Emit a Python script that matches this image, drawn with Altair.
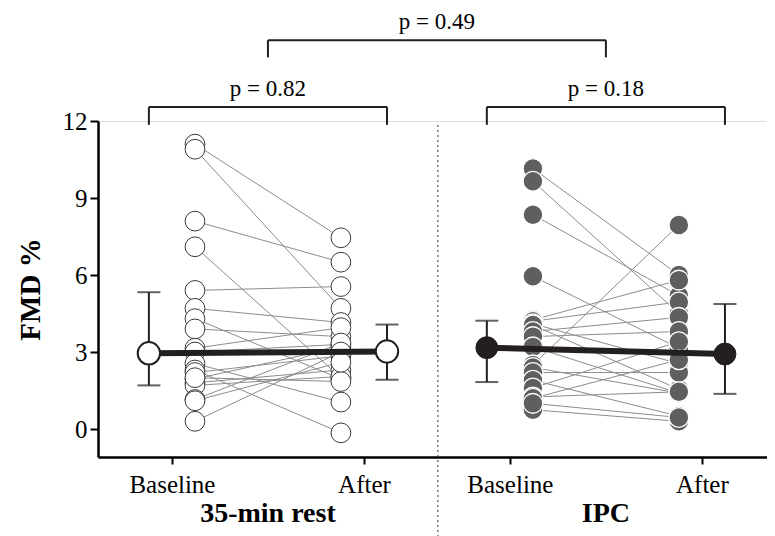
import altair as alt
import pandas as pd

# ---- data ----
rest_baseline = [11.1, 10.9, 8.1, 7.1, 5.4, 4.7, 4.3, 3.9, 3.15, 3.0, 2.55, 2.3, 2.2, 1.95, 1.8, 1.7, 1.15, 0.3, 2.0, 1.1]
rest_after = [7.45, 4.7, 6.5, 2.0, 5.55, 4.15, 1.95, 3.6, 3.95, 3.3, 1.05, -0.15, 2.85, 3.2, 2.3, 2.05, 3.35, 3.0, 1.85, 2.6]
ipc_baseline = [10.15, 9.65, 8.35, 5.95, 4.25, 4.2, 4.1, 4.05, 3.8, 3.6, 3.2, 2.5, 2.4, 2.2, 1.9, 1.6, 1.25, 1.2, 0.75, 1.0]
ipc_after = [6.0, 4.5, 5.2, 3.15, 5.8, 4.95, 2.55, 1.55, 4.35, 3.8, 1.4, 7.95, 1.4, 2.2, 0.5, 3.4, 1.45, 2.7, 0.3, 0.45]

groups = ["35-min rest", "IPC"]
phases = ["Baseline", "After"]
summary_mid = [2.95, 3.02, 3.17, 2.92]
summary_lo = [1.7, 1.92, 1.83, 1.37]
summary_hi = [5.33, 4.07, 4.22, 4.87]

p_labels = ["p = 0.82", "p = 0.18", "p = 0.49"]

# ---- layout (category positions on the x scale) ----
tick_pos = {"35-min rest": [1.0, 2.0], "IPC": [2.76, 3.76]}
OFF = 0.12
SEP = 2.385

rows = []
for g, base, aft in [("35-min rest", rest_baseline, rest_after), ("IPC", ipc_baseline, ipc_after)]:
    for i, (b, a) in enumerate(zip(base, aft)):
        rows.append(dict(group=g, subj=f"{g}-{i}", x=tick_pos[g][0] + OFF, value=b, order=0))
        rows.append(dict(group=g, subj=f"{g}-{i}", x=tick_pos[g][1] - OFF, value=a, order=1))
subj_df = pd.DataFrame(rows)

srows = []
k = 0
for g in groups:
    for j, ph in enumerate(phases):
        xpos = tick_pos[g][j] + (-OFF if j == 0 else OFF)
        srows.append(dict(group=g, phase=ph, x=xpos, value=summary_mid[k],
                          lo=summary_lo[k], hi=summary_hi[k], order=j))
        k += 1
sum_df = pd.DataFrame(srows)

mx = {(r["group"], r["phase"]): r["x"] for r in srows}
br = [
    (mx[("35-min rest", "Baseline")], mx[("35-min rest", "After")], 12.55, 11.85, p_labels[0], 13.25),
    (mx[("IPC", "Baseline")], mx[("IPC", "After")], 12.55, 11.85, p_labels[1], 13.25),
    ((mx[("35-min rest", "Baseline")] + mx[("35-min rest", "After")]) / 2,
     (mx[("IPC", "Baseline")] + mx[("IPC", "After")]) / 2, 15.15, 14.48, p_labels[2], 15.85),
]
h_df = pd.DataFrame([dict(x=a, x2=b, value=t) for a, b, t, _, _, _ in br])
v_df = pd.DataFrame([dict(x=xx, value=t, value2=bt) for a, b, t, bt, _, _ in br for xx in (a, b)])
t_df = pd.DataFrame([dict(x=(a + b) / 2, value=ty, label=lab) for a, b, _, _, lab, ty in br])
g_df = pd.DataFrame([dict(x=(tick_pos[g][0] + tick_pos[g][1]) / 2, label=g) for g in groups])
sep_df = pd.DataFrame([dict(x=SEP)])

FONT = "Liberation Serif"
xs = alt.Scale(domain=[0.615, 4.099], nice=False, zero=False)
ys = alt.Scale(domain=[-1.09, 12], nice=False, zero=False)

xaxis = alt.Axis(values=[1.0, 2.0, 2.76, 3.76],
                 labelExpr="datum.value < 1.5 ? 'Baseline' : datum.value < 2.5 ? 'After' : datum.value < 3.3 ? 'Baseline' : 'After'",
                 title="", grid=False, domainColor="black", domainWidth=2.5,
                 tickColor="black", tickWidth=2, tickSize=7, labelFont=FONT,
                 labelFontSize=25, labelColor="black", labelPadding=8)
yaxis = alt.Axis(values=[0, 3, 6, 9, 12], title="FMD %", grid=False, domainColor="black",
                 domainWidth=2.5, tickColor="black", tickWidth=2, tickSize=8,
                 labelFont=FONT, labelFontSize=25, labelColor="black", labelPadding=3,
                 titleFont=FONT, titleFontSize=29, titleFontWeight="bold",
                 titleColor="black", titlePadding=17)

def X(field="x"):
    return alt.X(f"{field}:Q", scale=xs, axis=xaxis)

def Y(field="value"):
    return alt.Y(f"{field}:Q", scale=ys, axis=yaxis)

sep = alt.Chart(sep_df).mark_rule(color="#333333", strokeWidth=1, strokeDash=[2, 3]).encode(
    x=X(), y=alt.value(4), y2=alt.value(415))

lines = alt.Chart(subj_df).mark_line(color="#8c8c8c", strokeWidth=1).encode(
    x=X(), y=Y(), detail="subj:N", order="order:Q")

rest_pts = alt.Chart(subj_df[subj_df.group == "35-min rest"]).mark_point(
    shape="circle", filled=True, fill="white", stroke="#3a3a3a", strokeWidth=1, size=390, opacity=1
).encode(x=X(), y=Y())

ipc_pts = alt.Chart(subj_df[subj_df.group == "IPC"]).mark_point(
    shape="circle", filled=True, fill="#5f5f5f", stroke="white", strokeWidth=1.3, size=390, opacity=1
).encode(x=X(), y=Y())

err = alt.Chart(sum_df).mark_rule(color="#231f20", strokeWidth=2).encode(
    x=X(), y=Y("lo"), y2="hi:Q")
cap_lo = alt.Chart(sum_df).mark_tick(orient="horizontal", color="#231f20", thickness=2, size=23).encode(
    x=X(), y=Y("lo"))
cap_hi = alt.Chart(sum_df).mark_tick(orient="horizontal", color="#231f20", thickness=2, size=23).encode(
    x=X(), y=Y("hi"))

mean_line = alt.Chart(sum_df).mark_line(color="#231f20", strokeWidth=6).encode(
    x=X(), y=Y(), detail="group:N", order="order:Q")

rest_mean = alt.Chart(sum_df[sum_df.group == "35-min rest"]).mark_point(
    shape="circle", filled=True, fill="white", stroke="#231f20", strokeWidth=2, size=500, opacity=1
).encode(x=X(), y=Y())
ipc_mean = alt.Chart(sum_df[sum_df.group == "IPC"]).mark_point(
    shape="circle", filled=True, fill="#231f20", stroke="#231f20", strokeWidth=1, size=480, opacity=1
).encode(x=X(), y=Y())

hbr = alt.Chart(h_df).mark_rule(color="#231f20", strokeWidth=2).encode(x=X(), x2="x2:Q", y=Y())
vbr = alt.Chart(v_df).mark_rule(color="#231f20", strokeWidth=2).encode(x=X(), y=Y(), y2="value2:Q")
ptext = alt.Chart(t_df).mark_text(font=FONT, fontSize=23, color="black", baseline="middle").encode(
    x=X(), y=Y(), text="label:N")
gtext = alt.Chart(g_df).mark_text(font=FONT, fontSize=28, fontWeight="bold", color="black",
                                  baseline="middle").encode(
    x=X(), y=alt.value(393), text="label:N")

chart = alt.layer(sep, lines, rest_pts, ipc_pts, err, cap_lo, cap_hi, mean_line, rest_mean, ipc_mean,
                  hbr, vbr, ptext, gtext).properties(
    width=669, height=336,
    autosize=alt.AutoSizeParams(type="none"),
    padding={"left": 90, "top": 113, "right": 0, "bottom": 79},
).configure_view(stroke=None).configure(background="white")

chart.save("out.html", embed_options={"renderer": "svg", "actions": False})
